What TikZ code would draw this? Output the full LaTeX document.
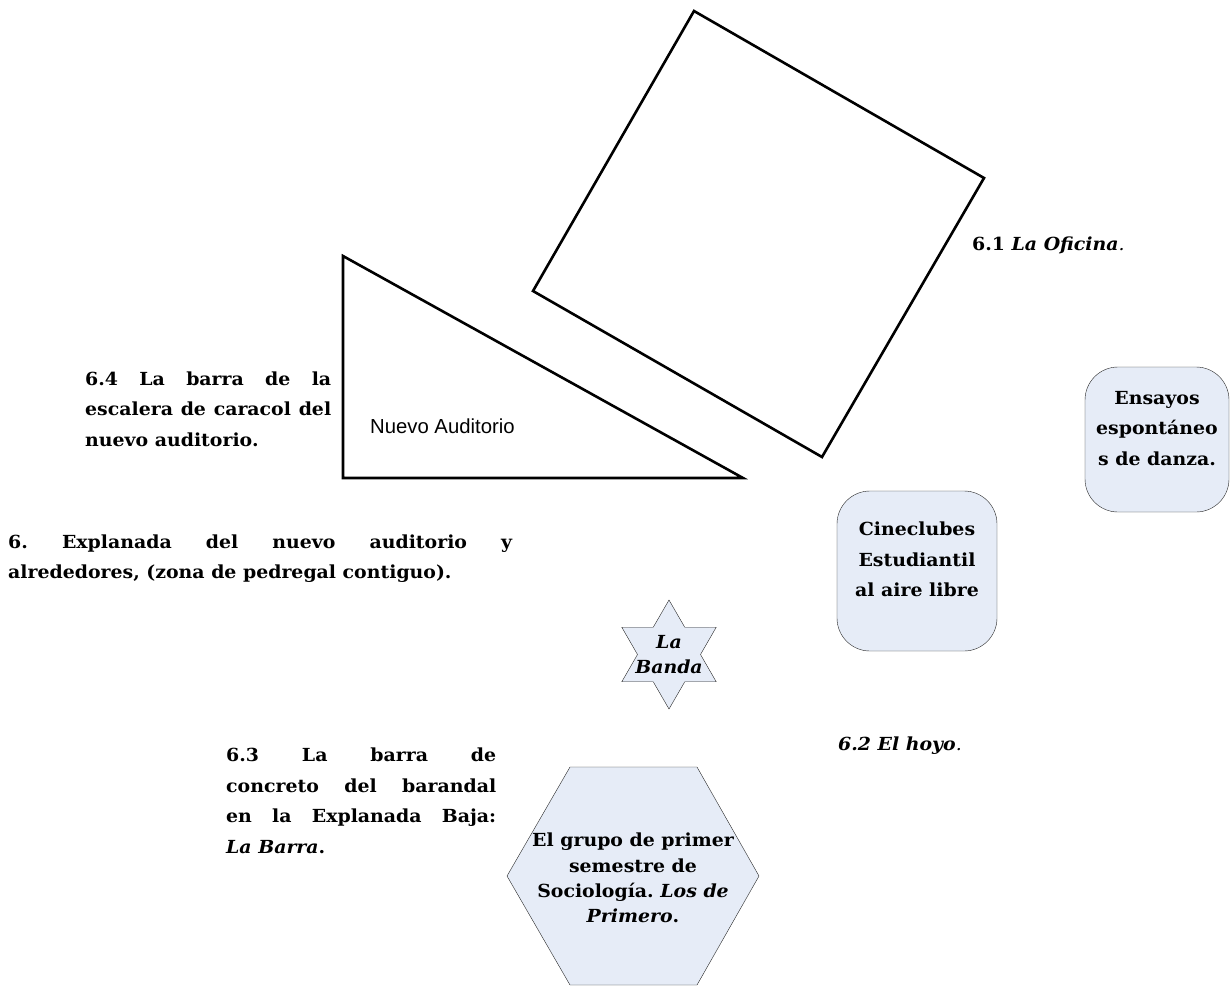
\documentclass[tikz,border=0pt]{standalone}
\usepackage{fontspec}
\setmainfont[FakeStretch=1.05]{DejaVu Serif}
\newfontfamily\arialfont{Liberation Sans}
\usetikzlibrary{shapes.geometric,positioning}
\definecolor{boxfill}{RGB}{230,236,247}
\frenchspacing

\begin{document}
\begin{tikzpicture}[x=1pt,y=-1pt]
        \tikzstyle{lbl} = [font=\bfseries\fontsize{18}{30.5}\selectfont, inner sep=0pt]
        \tikzstyle{blk} = [lbl, align=justify, anchor=north west]
        \tikzstyle{grptxt} = [font=\bfseries\fontsize{18}{25.3}\selectfont, inner sep=0pt, align=center]
        \tikzstyle{rbox} = [draw=black!85, fill=boxfill, rounded corners=33pt]
        \tikzstyle{wall} = [line width=2.6pt]
        \useasboundingbox (0,0) rectangle (1231,985);

        % edificios
        \draw[wall] (694,11) -- (984,178) -- (822,457) -- (533,291) -- cycle;
        \draw[wall] (343,256) -- (743,478) -- (343,478) -- cycle;
        \node[anchor=base west, inner sep=0pt, font=\arialfont\fontsize{20.3}{22}\selectfont] (auditorio) at (370,433) {Nuevo Auditorio};

        % textos
        \node[blk, text width=246pt] (t64) at (85,371.5) {6.4 La barra de la\linebreak escalera de caracol del\linebreak nuevo auditorio.};
        \node[blk, text width=504pt] (t6) at (8,534.5) {6. Explanada del nuevo auditorio y\linebreak alrededores, (zona de pedregal contiguo).};
        \node[lbl, anchor=base west] (t61) at (972,250) {6.1 \textit{La Oficina}{\mdseries\itshape.}};
        \node[lbl, anchor=base west] (t62) at (838,750) {\textit{6.2 El hoyo}{\mdseries\itshape.}};
        \node[blk, text width=270pt] (t63) at (226,748) {6.3 La barra de\linebreak concreto del barandal\linebreak en la Explanada Baja:\linebreak \textit{La Barra}.};

        % grupos
        \node[rbox, minimum width=144pt, minimum height=145pt] (ensayos) at (1157,439.5) {};
        \node[lbl, align=center, below=24pt of ensayos.north] (ensayostxt) {Ensayos\\espontáneo\\s de danza.};
        \node[rbox, minimum width=160pt, minimum height=160pt] (cine) at (917,571) {};
        \node[lbl, align=center, below=31pt of cine.north] (cinetxt) {Cineclubes\\Estudiantil\\al aire libre};

        \node[star, star points=6, star point ratio=1.73, minimum size=109pt, inner sep=0pt, draw=black!85, fill=boxfill] (banda) at (669,654.5) {};
        \node[grptxt, font=\bfseries\itshape\fontsize{18}{25.3}\selectfont] (bandatxt) at (banda) {La\\Banda};

        \draw[draw=black!85, fill=boxfill] (570,767) -- (697,767) -- (759,876) -- (697,985) -- (570,985) -- (507,876) -- cycle;
        \node[grptxt, anchor=north] (primero) at (633,833) {El grupo de primer\\semestre de\\Sociología. \textit{Los de}\\\textit{Primero}.};
\end{tikzpicture}
\end{document}
